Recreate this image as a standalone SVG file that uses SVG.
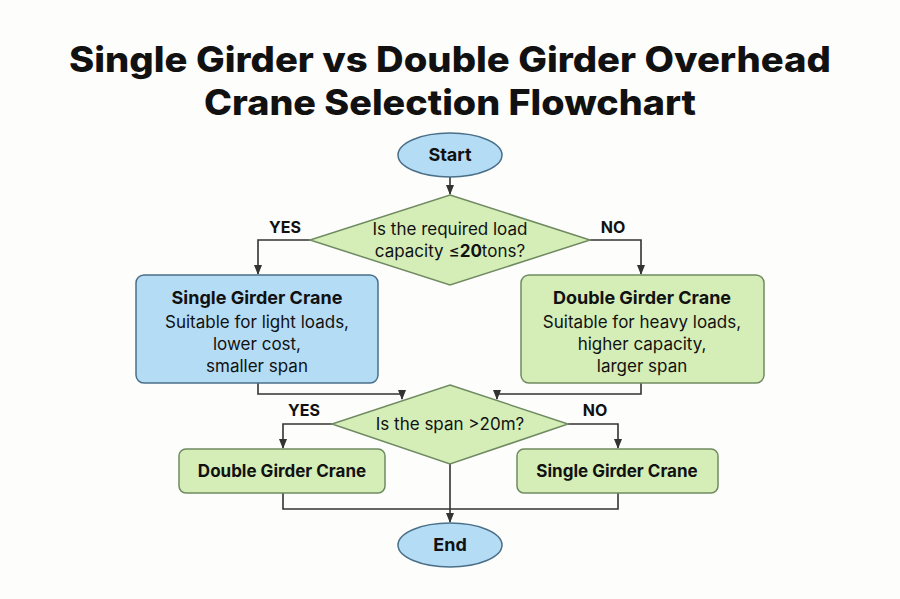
<svg xmlns="http://www.w3.org/2000/svg" width="900" height="599" viewBox="0 0 900 599">
<style>
.t{font-family:Inter,"Open Sans",sans-serif;fill:#111}
.title{font-size:35px;font-weight:800}
.b{font-weight:700}
.ln{fill:none;stroke:#333;stroke-width:1.6}
.blue{fill:#b5dcf5;stroke:#4a6f88;stroke-width:1.5}
.green{fill:#d5eeb8;stroke:#6f8a60;stroke-width:1.5}
</style>
<defs><marker id="ah" markerWidth="10" markerHeight="10" refX="9" refY="5" orient="auto" markerUnits="userSpaceOnUse"><path d="M0,1 L10,5 L0,9 Z" fill="#333"/></marker></defs>
<rect width="900" height="599" fill="#fdfdfb"/>
<text class="t title" x="450" y="72" text-anchor="middle" textLength="762" lengthAdjust="spacingAndGlyphs">Single Girder vs Double Girder Overhead</text>
<text class="t title" x="450" y="115" text-anchor="middle" textLength="492" lengthAdjust="spacingAndGlyphs">Crane Selection Flowchart</text>
<g id="connectors">
<path class="ln" d="M450,177 V194" marker-end="url(#ah)"/>
<path class="ln" d="M310,240 H258 V274" marker-end="url(#ah)"/>
<path class="ln" d="M590,240 H641 V274" marker-end="url(#ah)"/>
<path class="ln" d="M258,383 V394 H402 V399" marker-end="url(#ah)"/>
<path class="ln" d="M641,383 V394 H497 V399" marker-end="url(#ah)"/>
<path class="ln" d="M332,424 H283 V448" marker-end="url(#ah)"/>
<path class="ln" d="M568,424 H618 V448" marker-end="url(#ah)"/>
<path class="ln" d="M450,464 V522" marker-end="url(#ah)"/>
<path class="ln" d="M283,493 V509 H618 V493"/>
<text class="t b" x="285" y="233" font-size="16" text-anchor="middle">YES</text>
<text class="t b" x="613" y="233" font-size="16" text-anchor="middle">NO</text>
<text class="t b" x="304" y="416" font-size="16" text-anchor="middle">YES</text>
<text class="t b" x="595" y="416" font-size="16" text-anchor="middle">NO</text>
</g>
<g id="start"><ellipse class="blue" cx="450" cy="155" rx="52" ry="22"/><text class="t b" x="450" y="161" font-size="18" text-anchor="middle">Start</text></g>
<g id="q1"><polygon class="green" points="450,195 590,240 450,285 310,240"/>
<text class="t" x="450" y="235" font-size="17" text-anchor="middle">Is the required load</text>
<text class="t" x="450" y="257" font-size="17" text-anchor="middle">capacity ≤<tspan font-weight="700">20</tspan>tons?</text></g>
<g id="single1"><rect class="blue" x="136" y="275" width="242" height="108" rx="8"/>
<text class="t b" x="257" y="304" font-size="18" text-anchor="middle">Single Girder Crane</text>
<text class="t" x="257" y="328" font-size="17" text-anchor="middle">Suitable for light loads,</text>
<text class="t" x="257" y="350" font-size="17" text-anchor="middle">lower cost,</text>
<text class="t" x="257" y="372" font-size="17" text-anchor="middle">smaller span</text></g>
<g id="double1"><rect class="green" x="521" y="275" width="243" height="108" rx="8"/>
<text class="t b" x="642" y="304" font-size="18" text-anchor="middle">Double Girder Crane</text>
<text class="t" x="642" y="328" font-size="17" text-anchor="middle">Suitable for heavy loads,</text>
<text class="t" x="642" y="350" font-size="17" text-anchor="middle">higher capacity,</text>
<text class="t" x="642" y="372" font-size="17" text-anchor="middle">larger span</text></g>
<g id="q2"><polygon class="green" points="450,385 568,424 450,464 332,424"/>
<text class="t" x="450" y="430" font-size="17" text-anchor="middle">Is the span &gt;20m?</text></g>
<g id="double2"><rect class="green" x="179" y="449" width="206" height="44" rx="7"/>
<text class="t b" x="282" y="477" font-size="17" text-anchor="middle">Double Girder Crane</text></g>
<g id="single2"><rect class="green" x="517" y="449" width="201" height="44" rx="7"/>
<text class="t b" x="617" y="477" font-size="17" text-anchor="middle">Single Girder Crane</text></g>
<g id="end"><ellipse class="blue" cx="450" cy="545" rx="52" ry="22"/><text class="t b" x="450" y="551" font-size="18" text-anchor="middle">End</text></g>
</svg>
